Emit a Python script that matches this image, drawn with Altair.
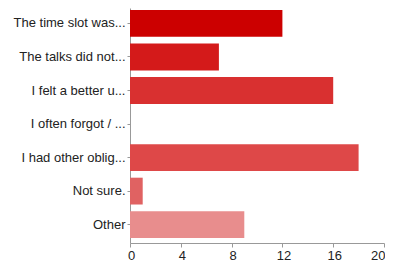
import altair as alt
import pandas as pd

categories = [
    "The time slot was...",
    "The talks did not...",
    "I felt a better u...",
    "I often forgot / ...",
    "I had other oblig...",
    "Not sure.",
    "Other",
]
values = [12, 7, 16, 0, 18, 1, 9]
colors = ["#cc0000", "#d41a1a", "#d93030", "#dc3c3c", "#de4848", "#e06262", "#e88d8d"]
x_ticks = [0, 4, 8, 12, 16, 20]

df = pd.DataFrame({"category": categories, "value": values, "color": colors})

chart = (
    alt.Chart(df)
    .mark_bar()
    .encode(
        y=alt.Y(
            "category:N",
            sort=categories,
            title=None,
            scale=alt.Scale(paddingInner=0.2, paddingOuter=0.104, align=0.29),
            axis=alt.Axis(
                labelFont="Liberation Sans",
                labelFontSize=13,
                labelColor="#222222",
                tickSize=3,
                tickColor="#999999",
                domainColor="#999999",
                labelPadding=2,
                grid=False,
                labelLimit=200,
            ),
        ),
        x=alt.X(
            "value:Q",
            title=None,
            scale=alt.Scale(domain=[0, 20], nice=False),
            axis=alt.Axis(
                values=x_ticks,
                labelFont="Liberation Sans",
                labelFontSize=13,
                labelColor="#222222",
                tickSize=4,
                tickColor="#999999",
                domainColor="#999999",
                labelPadding=2,
                grid=False,
                labelFlush=False,
                labelAlign=alt.expr("datum.value === 20 ? 'right' : 'center'"),
                labelOffset=1,
            ),
        ),
        color=alt.Color("color:N", scale=None, legend=None),
    )
    .properties(
        width=254,
        height=235,
        autosize=alt.AutoSizeParams(type="none"),
        padding={"left": 122, "top": 0, "right": 1, "bottom": 19},
    )
    .configure_view(stroke=None)
)

chart.save("out.html", embed_options={"renderer": "svg", "actions": False})
